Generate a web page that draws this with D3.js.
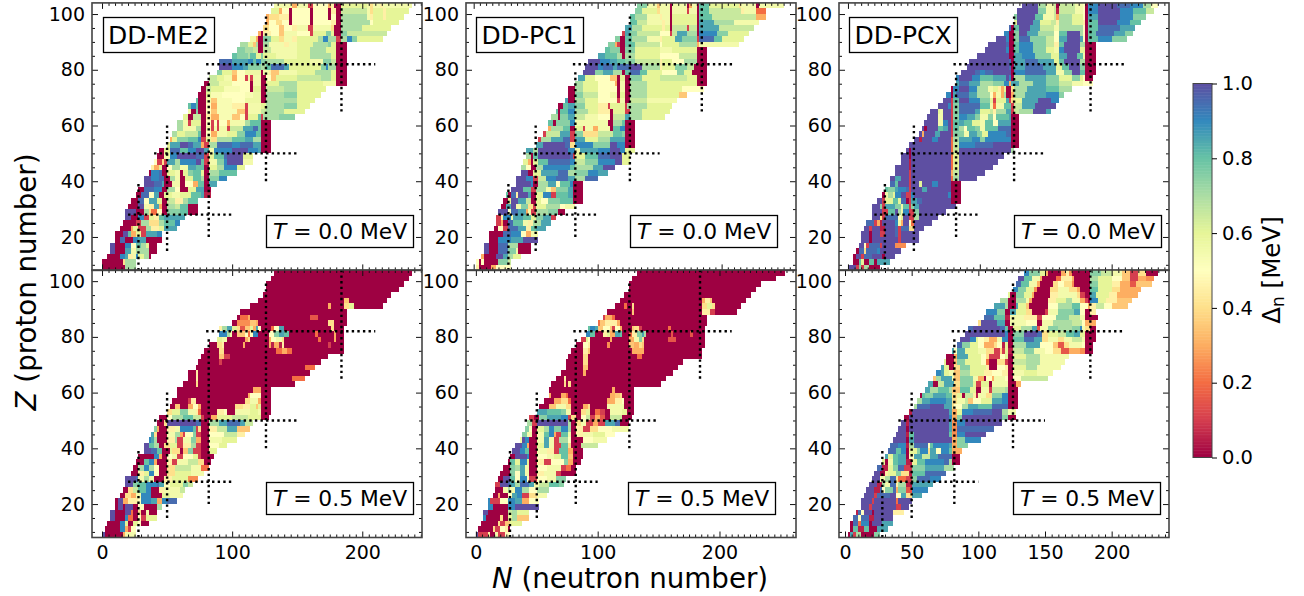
<!DOCTYPE html>
<html>
<head>
<meta charset="utf-8">
<script src="https://d3js.org/d3.v7.min.js"></script>
<style>
body { margin: 0; background: #fff; }
text { font-family: "DejaVu Sans", sans-serif; fill: #000; }
</style>
</head>
<body>
<div id="wrapper"></div>
<script>
// proton number of each row, top to bottom. a row covers Z..Z+2
const zRows = [102,100,98,96,94,92,90,88,86,84,82,80,78,76,74,72,70,68,66,64,62,60,58,56,54,52,50,48,46,44,42,40,38,36,34,32,30,28,26,24,22,20,18,16,14,12,10,8];

// every row is N0, gap, N1, gap, N2 ... Nend (gap in MeV)
const me2T0 = [
[132,.55,146,.3,150,.55,158,.1,162,.5,174,.3,176,.45,178,0,184,.6,204,.55,206,.4,208,.55,214,.45,216,.55,238],
[130,.6,136,.3,138,.5,144,0,146,.5,160,0,162,.5,174,0,176,.45,180,0,184,.65,204,.55,206,.4,208,.6,216,.45,218,.6,236],
[126,.3,128,.4,136,.45,144,0,146,.5,160,0,162,.5,174,0,176,.5,180,0,184,.7,204,.55,206,.45,208,.6,216,.45,218,.6,232],
[126,.3,128,.5,134,.4,138,.5,144,0,146,.5,160,0,162,.5,176,.45,180,0,184,.7,206,.5,208,.6,228],
[124,.4,128,.5,136,.35,140,.5,146,.45,150,.55,158,.1,162,.55,176,.4,178,0,184,.7,200,.6,222],
[120,.3,122,0,124,.45,130,.5,136,.35,140,.55,150,.5,160,.1,162,.6,172,.75,176,.6,178,0,184,.75,188,.65,219],
[114,.55,118,.3,120,0,124,.75,130,.6,136,.4,140,.55,146,.45,150,.6,166,.7,170,.9,174,.7,180,.1,184,.7,188,.9,192,.75,196,.6,216],
[106,.7,112,.6,116,.35,118,.7,120,0,124,.7,128,.55,140,.45,144,.55,150,.6,162,.7,174,.75,176,.6,180,0,188],
[104,.75,110,.7,116,.65,120,0,124,.65,130,.55,150,.6,160,.7,172,.6,180,0,188],
[100,.8,104,.75,112,.7,114,.8,118,.6,122,.75,124,.6,134,.55,150,.6,160,.7,176,.6,180,0,188],
[90,.95,100,.85,112,.9,116,.8,118,.9,122,.75,126,.7,140,.6,160,.55,170,.75,176,.65,180,0,188],
[90,1,100,.9,108,.85,112,.75,122,.7,126,.8,130,.95,140,.85,144,.6,160,.6,168,.75,172,.9,174,.7,180,0,188],
[88,.75,92,.6,100,.35,104,.5,110,.57,122,0,124,.55,128,.45,130,.35,136,.55,150,.6,164,.7,176,.6,180,0,188],
[82,.65,88,.6,94,.55,100,.3,104,.5,110,.1,112,.55,114,.1,116,.55,122,0,126,.5,130,.35,134,.6,150,.65,168,.7,176,.6,180,0,188],
[78,0,82,.65,90,.57,100,.5,114,0,116,.55,122,0,126,.6,136,.7,150,.6,170,.55,180,0,188],
[76,0,80,.65,84,.6,94,.53,106,.5,114,0,116,.6,122,0,126,.65,140,.7,150,.6,172],
[74,0,80,.6,84,.53,92,.5,110,.53,116,.57,122,0,126,.7,140,.75,150,.6,168],
[72,.8,74,0,80,.55,84,.35,88,.53,100,.5,110,.57,122,0,126,.7,140,.7,150,.6,164],
[66,.8,68,.9,72,.8,74,0,80,.5,84,.3,88,.53,100,.45,110,.1,112,.55,122,.6,126,.7,140,.75,150,.6,160],
[66,.55,68,0,72,.75,74,0,80,.5,84,.35,88,.53,104,.35,110,.1,112,.55,122,.65,126,.7,140,.6,156],
[62,.6,66,0,70,.65,76,0,80,.45,84,.3,90,.53,100,.35,106,.5,110,.1,112,.6,120,.8,122,.1,124,.7,136,.75,148],
[58,.7,62,.55,66,.1,68,.6,76,0,80,.5,84,.1,86,.5,88,.1,90,.5,96,.3,98,.55,110,.7,114,.8,122,0,130],
[58,.7,62,.55,72,.7,76,0,80,.55,84,.1,86,.55,88,.1,90,.55,96,.1,98,.65,108,.85,116,.95,120,.8,122,0,130],
[54,.7,58,.6,64,.65,74,.8,76,0,80,.5,84,.3,88,.55,96,.6,104,.75,110,.9,118,.8,122,0,130],
[52,.3,54,.6,58,.75,66,.8,74,.9,76,.1,80,.6,84,.4,88,.7,100,.8,110,.85,116,.7,122,0,130],
[50,.6,52,.85,60,1,66,.95,70,.85,76,.3,78,.1,82,.7,88,.95,100,.9,106,.95,116,.85,122,0,130],
[44,0,48,.6,52,.95,60,.8,66,.9,72,1,78,.85,82,.55,86,.9,100,1,112,.9,120,.85,122,0,130],
[42,0,48,.55,52,.9,58,1,72,.95,78,.1,82,.6,86,.8,94,.95,96,1,108,.6,116],
[40,.5,42,.1,46,.4,48,.1,50,.85,56,.7,60,.9,72,1,76,.8,78,.1,82,.55,88,.75,94,.9,96,1,108,.55,116],
[38,.45,40,.3,44,.6,46,0,50,.5,54,.7,60,.55,66,.85,72,.8,78,0,82,.6,88,.7,94,.9,104,.6,110],
[36,0,38,.9,44,.95,46,0,50,.6,56,.55,60,0,62,.6,66,.75,70,.8,76,.6,78,0,82,.7,90,.8,104],
[32,1,38,.9,44,.95,48,0,52,.7,56,.55,60,0,64,.6,70,.8,76,.7,78,0,82,.75,90,.9,96],
[32,1,40,.95,46,.85,48,0,54,.55,60,0,64,.5,70,.3,74,.8,78,0,82,.85,88],
[28,0,32,.95,40,.9,46,0,50,.7,56,.5,60,0,66,.6,72,.85,78,0,84],
[26,0,30,.95,36,.5,40,.85,44,0,48,.6,54,.55,60,.6,68,.8,76,.85,78,.05,84],
[22,0,28,.95,32,.5,36,.85,42,.6,46,0,50,.65,56,.45,62,.7,66,.8,74],
[20,0,28,1,32,.55,36,.45,40,.85,44,.3,46,0,50,.7,56,.65,60,.8,66,0,74],
[18,1,26,0,32,.7,36,.4,38,.2,42,.5,46,0,50,.75,60,.8,66,0,74],
[18,1,22,0,28,.9,32,.1,36,.6,40,.45,44,.8,48,.85,64],
[16,0,26,.1,30,.7,36,.4,44,.7,48,.8,56,.9,60],
[14,0,22,.3,24,.6,28,.1,34,.7,38,.45,44,.6,48,.85,58],
[10,0,16,1,20,.8,22,.3,26,.6,30,.1,34,.85,42,.9,46],
[10,0,14,.95,18,0,24,.9,28,.85,34,0,46],
[6,1,10,0,18,.9,22,.5,26,.8,30,.7,34,.6,36,0,42],
[6,1,10,0,18,.85,22,.55,26,.7,36,0,42],
[4,0,14,.9,18,.85,20,.45,24,.55,26,.9,28,.6,32,.7,36,0,38],
[0,0,16,.4,18,.7,26],
[0,0,18,.7,26]
];

const pc1T0 = [
[132,.75,140,.55,148,.35,150,.55,158,0,160,.55,172,0,174,.3,176,.55,180,0,182,.8,190,.6,214,.4,216,.55,228,0,230,.55,250],
[130,.75,136,.6,148,.4,150,.55,158,0,160,.55,172,.1,174,.55,180,0,182,.8,190,.65,216,.45,218,.55,228,.2,236],
[126,.8,130,.7,140,.55,150,.45,152,.55,158,0,160,.6,180,0,182,.8,192,.65,228,.3,236],
[126,.8,132,.65,140,.55,152,.45,154,.55,158,0,160,.6,180,0,182,.85,194,.7,210,.55,230],
[122,.85,128,.7,136,.6,152,.45,154,.6,158,0,160,.65,172,.1,174,.65,180,0,182,.85,198,.65,226],
[120,.1,122,.85,126,.75,132,.65,150,.5,158,.1,160,.65,164,.85,172,.7,180,0,182,.9,196,.75,205,.6,222],
[114,.75,118,0,122,.8,128,.7,140,.55,150,.45,152,.6,162,.85,168,.75,180,.1,182,.95,194,.8,200,.6,218],
[108,.75,114,.3,116,.1,118,0,122,.8,130,.65,150,.5,152,.6,166,.7,180,.3,182,.55,214],
[106,.8,110,.75,118,0,122,.75,130,.6,150,.55,160,.6,180,0,188],
[100,.85,106,.8,116,.7,120,0,122,.7,130,.6,150,.5,166,.65,180,0,188],
[92,1,102,.9,110,.85,116,.8,122,.75,130,.65,150,.45,152,.6,160,.5,170,.7,180,0,188],
[90,1,100,.9,104,.95,112,.85,116,.95,126,1,136,.7,150,.45,152,.6,162,.75,172,.65,178,0,188],
[88,1,98,.75,104,.85,112,.7,120,0,122,.8,126,.95,134,.8,140,.6,152,.5,164,.75,170,.6,176,0,188],
[84,.85,90,.6,98,.5,110,.35,116,0,118,.6,122,0,126,.75,136,.6,150,.65,172,.6,180,0,188],
[82,.7,88,.6,100,.5,114,.3,116,0,118,.55,122,0,126,.7,140,.6,180,0,188],
[76,0,82,.7,88,.6,100,.5,116,0,118,.55,122,0,126,.7,140,.6,168,.5,186],
[76,0,82,.75,88,.65,100,.5,110,.55,116,0,118,.6,122,0,126,.7,140,.6,166,.35,172],
[74,.85,76,0,82,.7,90,.6,100,.5,116,.1,118,.55,122,0,126,.65,140,.55,164],
[68,0,72,.8,76,.85,82,.75,90,.6,100,.45,108,.1,110,.6,122,.1,124,.7,140,.6,160],
[66,.8,68,0,70,.8,76,.9,82,.7,92,.6,100,.45,110,0,112,.6,122,.1,126,.7,136,.6,158],
[62,.7,68,0,70,.75,76,.85,82,.65,90,.55,100,.5,110,0,112,.65,122,.85,126,.7,136,.6,154],
[60,.8,64,0,66,.75,78,.9,82,.55,108,0,112,.7,120,.8,122,0,130],
[60,.3,62,.7,72,.8,78,0,82,.6,88,.1,90,.55,96,.3,100,.55,110,0,112,.8,118,.9,122,0,130],
[56,.1,58,.65,70,.85,78,.1,82,.75,88,.4,100,.65,112,.8,120,.75,122,0,130],
[52,.1,54,.7,62,.85,72,.95,78,.1,82,.85,90,.6,100,.7,110,.85,122,0,130],
[50,.85,56,1,74,.95,78,.4,82,.9,96,.75,110,1,116,.9,122,0,130],
[42,.85,48,.7,52,1,76,.9,82,.55,86,.85,100,.9,110,1,118,.9,122,.6,130],
[42,.7,46,0,48,.8,52,1,78,.95,80,.1,82,.6,90,.8,100,.95,110,1,120,.6,126],
[40,.6,44,.3,46,0,48,.6,52,.8,60,.95,78,.9,82,.65,90,.75,100,.9,114,1,120,.6,126],
[38,.7,42,.5,46,0,50,.7,56,.9,78,.8,82,.7,96,.85,104,1,114],
[38,1,44,0,48,.6,54,.85,68,.95,76,.7,82,.75,92,.9,100,.85,108],
[34,1,42,.9,48,.1,52,.65,58,.9,66,.95,76,.85,82,.7,90,.95,100],
[34,1,46,.9,48,0,52,.7,60,.85,66,.5,70,.8,78,.9,80,0,88],
[30,1,40,.8,46,.1,50,.7,58,.55,62,.35,66,.75,76,.85,80,0,88],
[26,.8,28,0,30,.95,34,.45,36,1,44,.85,46,0,50,.6,56,.9,62,.1,66,.8,76,.85,80,0,88],
[24,0,28,.6,30,1,36,.85,42,.65,46,0,50,.6,54,.5,60,.75,70,.8,80,0,88],
[22,0,26,.85,30,1,34,.55,38,.75,44,.4,48,.1,50,.6,58,.7,70,.5,74,.55,82],
[20,1,28,.5,30,.95,36,.85,42,.3,44,.55,46,.1,50,.7,60,.75,68,0,74],
[18,.1,22,.45,24,.9,30,.55,32,.85,40,.8,46,.6,50,.75,56,.85,62,.1,66],
[18,.1,22,.3,24,0,28,.95,32,.8,40,.55,44,.45,48,.7,54,.85,62],
[16,0,20,.5,24,.1,28,.95,36,.85,42,.45,46,.8,50,.85,58],
[12,0,24,.95,30,.9,38,.5,42,.3,46,.55,52],
[12,0,20,.9,30,.85,40,1,52],
[8,1,12,0,20,.95,28,.7,36,0,46],
[8,1,12,0,20,.95,28,.75,34,.55,36,0,46],
[6,.3,8,0,18,1,24,.85,28,.7,32,.6,38],
[2,.5,4,0,6,.5,8,0,20,.75,28,.65,30],
[2,.45,4,0,14,.3,18,.5,30]
];

const pcxT0 = [
[132,1,144,.7,150,.55,156,.65,158,0,160,.65,172,.55,178,.5,180,0,182,.9,190,1,204,.95,214,.9,224,.7,230,.5,235],
[128,1,144,.75,150,.55,156,.65,158,.05,160,.65,172,.55,178,.5,180,0,182,.9,190,1,206,.9,216,.8,226,.65,232],
[126,.75,128,1,142,.8,148,.55,156,.65,158,.3,160,.7,170,.6,178,.5,180,0,182,.85,190,1,206,.9,216,.75,226],
[126,.6,128,1,140,.85,146,.6,154,.65,158,.45,160,.7,170,.6,178,.45,180,0,182,.8,190,1,204,.9,214,.8,222],
[122,.95,124,0,126,.8,130,1,138,.85,146,.65,156,.55,160,.7,178,.5,180,0,182,.8,190,.95,206,.85,218],
[118,.9,122,0,126,.75,130,1,136,.85,144,.7,156,.5,160,.8,166,1,176,.7,178,.5,180,0,182,.8,188,.95,202,.85,210,.75,216],
[112,1,120,.9,122,0,126,.75,130,.95,138,.75,150,.65,156,.5,160,.85,166,1,176,.85,178,.5,180,0,182,.8,190,.9,200,.75,212],
[106,1,120,.95,122,0,126,.8,130,.9,140,.75,150,.65,156,.45,160,.8,164,1,176,.7,180,0,188],
[104,1,120,.9,122,0,126,.8,130,.9,140,.75,150,.6,156,.55,160,.9,164,1,176,.6,180,0,188],
[98,1,122,0,126,.85,132,.9,142,.75,154,.6,160,.85,166,1,174,.8,178,.55,180,0,188],
[92,1,122,.95,124,0,126,.85,134,.95,144,.85,156,.6,160,.8,164,1,176,.7,180,0,188],
[90,1,122,.95,124,0,126,.85,134,.95,148,.85,158,.6,162,.8,168,1,176,.75,180,0,188],
[86,1,96,.95,100,.9,104,.95,110,1,124,0,126,.9,134,.95,150,.85,158,.55,164,.75,170,1,176,.8,180,0,188],
[82,.9,84,1,94,.9,100,.8,110,.85,120,1,122,.9,124,0,126,.7,134,.85,150,.75,160,.6,170,.75,176,.6,178,.5,180,0,186],
[82,.85,84,.95,92,.85,100,.7,110,.75,118,.9,122,.3,124,.85,130,.7,140,.85,150,.75,160,.65,170,.55,178,.5,186],
[78,0,80,.9,84,1,92,.9,98,.7,106,.55,110,.6,114,.45,116,.3,118,.6,120,0,124,.4,126,.7,136,.85,150,.8,160,.7,170],
[74,.9,78,0,80,.85,82,.95,92,.85,98,.7,108,.5,110,.3,112,.55,116,.3,118,.7,120,0,124,.3,126,.7,134,.85,150,.9,160,.75,164],
[72,1,78,.1,80,.8,84,1,92,.9,100,.75,108,.6,110,.1,112,.6,120,.85,122,.1,124,.4,126,.6,132,.85,144,1,154,.9,160],
[68,1,76,.9,78,.1,80,.75,84,.95,100,.8,108,.55,110,.2,112,.55,118,.8,124,.1,126,.65,132,.85,142,1,158],
[62,1,68,.6,70,.55,72,1,78,.1,80,.75,84,.95,96,.85,100,.6,108,.65,110,.45,112,.7,120,.85,124,.1,126,.65,130,.7,140,1,150,.85,154],
[60,1,68,.55,72,1,78,.1,80,.75,84,.9,90,.85,96,.75,100,.55,106,.75,110,.5,112,.8,122,.85,124,0,130],
[58,1,68,.55,72,.9,76,1,78,.1,80,.8,84,.85,88,.8,94,.6,100,.55,104,.8,110,.5,114,.85,124,0,130],
[56,1,58,0,60,1,68,.8,72,.85,76,1,78,.1,80,.8,84,.7,88,.5,90,.8,96,.75,100,.55,104,.8,114,.95,124,0,130],
[54,1,56,.3,58,1,66,.85,70,1,78,.1,80,.75,84,.75,88,.55,92,.85,98,.75,102,.6,106,.9,120,.95,124,0,130],
[50,1,54,.05,56,1,64,.9,68,1,78,.2,80,.7,84,.85,94,.9,100,.75,104,.9,124,0,130],
[46,1,78,.2,80,.65,84,.9,96,.95,110,1,124,0,130],
[44,1,46,0,48,1,78,.2,80,.65,84,1,124,.7,126],
[40,1,46,0,48,1,78,.2,80,.6,84,1,118],
[40,1,46,.05,48,1,78,.2,80,.6,84,1,114],
[36,1,46,.05,48,1,78,.2,80,.6,84,1,110],
[36,1,46,.1,48,1,78,.3,80,.65,84,1,104],
[32,1,36,.85,40,1,46,.1,48,1,78,.2,80,.7,84,1,98],
[32,.95,36,.8,38,1,46,.1,48,1,54,.6,56,1,64,.9,68,1,78,0,86],
[28,.8,30,.75,36,.85,38,.9,44,.95,46,.1,48,1,56,.85,60,1,78,0,86],
[26,0,28,.55,30,.7,34,.6,36,.9,40,1,44,.1,48,.9,50,1,76,.9,78,0,86],
[22,1,26,.1,28,.6,34,.8,38,.6,40,.95,44,0,46,.1,48,.85,52,.95,56,1,78,0,86],
[18,1,24,.75,26,.1,28,.85,36,.75,40,.55,42,.8,46,.1,48,.75,50,.85,54,1,82],
[18,1,26,.1,30,.8,36,1,38,.7,40,.55,42,.9,46,.1,50,.75,54,1,74],
[18,1,24,.4,26,.1,28,.95,38,.5,40,.6,42,1,46,.1,50,.7,54,1,68],
[14,.95,20,.1,22,.3,24,.05,26,1,36,.9,38,.55,40,.3,42,1,46,.5,48,.2,50,1,64],
[12,1,16,.1,18,1,24,.05,28,1,36,.95,38,.1,40,.95,46,.4,50,1,58],
[10,1,16,0,18,1,24,.1,28,1,36,.95,38,.1,40,1,54],
[10,1,16,0,18,1,38,.1,40,1,54],
[8,1,12,.5,14,.1,16,.95,24,.1,26,1,36,.25,44],
[6,0,8,.95,12,.4,14,.95,22,.9,24,1,40],
[4,0,6,1,10,.1,12,.95,18,1,26,0,28,1,36],
[4,0,8,.8,10,.6,12,0,16,.8,20,0,22,.85,32],
[0,1,6,.1,8,.75,10,.1,12,.7,16,0,24]
];

const me2T05 = [
[132,0,238],[130,0,236],[126,0,232],[126,0,228],[124,0,222],
[120,0,186,.35,190,0,219],
[114,0,174,.3,176,0,186,.4,190,.6,194,0,216],
[106,0,188],
[104,0,106,.2,112,.3,114,0,160,.15,166,0,188],
[100,0,104,.25,114,.35,118,.3,120,0,174,.4,178,0,188],
[90,.45,92,.7,96,.85,100,.6,104,.4,106,.15,110,.35,114,.6,116,.3,118,.85,120,.5,122,0,130,.2,132,.5,136,.85,140,0,176,.4,178,0,186],
[90,.9,96,.7,98,.55,100,0,104,.35,110,.5,112,.2,114,.5,116,.9,120,0,128,.5,132,.75,136,.85,140,.8,144,0,164,.2,166,0,178,.3,180,0,186],
[88,.6,92,.55,96,0,110,.3,112,.4,114,0,128,.3,130,.5,134,.55,138,.4,140,0,166,.2,168,0,178,.3,180,0,186],
[82,0,88,.4,92,.45,94,0,108,.3,110,0,128,.3,130,.05,132,.3,136,.05,138,.45,140,0,174,.1,176,0,186],
[78,0,90,.4,94,0,134,.2,138,.3,142,.2,146,0,186],
[76,0,90,.35,94,.1,98,0,174],
[74,0,90,.1,92,0,168],
[72,0,156,.2,164],
[66,0,72,.45,74,0,160],
[66,0,72,.45,74,0,146,.2,156],
[62,0,72,.4,74,0,148],
[58,0,116,.3,122,0,130],
[58,0,112,.3,114,.5,120,.5,122,0,130],
[54,0,66,.1,68,.45,72,0,110,.4,114,.55,120,.3,122,0,130],
[52,0,56,.35,60,0,66,.3,70,.5,74,.3,76,0,102,.4,108,.45,114,.6,118,.35,120,.6,122,0,130],
[50,.4,54,.6,60,.75,66,.55,72,.45,74,.2,76,0,88,.45,94,.5,96,0,102,.55,114,.6,120,.55,122,0,130],
[44,0,50,.5,54,.7,62,.8,70,.65,76,.1,78,0,84,.3,88,.6,100,.65,112,.6,122,0,128],
[42,0,48,.4,50,1,66,1,72,.95,76,0,82,.7,90,.85,96,.95,106,.85,110,.65,116],
[40,.75,42,.3,44,0,50,.45,56,.55,60,.9,70,.8,72,.1,74,.4,76,0,82,.45,88,.65,96,.85,104,.35,114],
[38,.85,40,.4,42,0,50,.55,56,.7,60,.3,62,.1,64,.5,70,.75,72,.1,76,0,82,.5,94,.65,104,.45,110],
[36,.9,38,.85,40,.7,42,0,50,.45,56,.7,58,.1,62,.55,68,.75,72,.3,76,0,82,.55,92,.6,104],
[32,1,36,.8,40,.7,44,0,48,.4,52,.6,58,.1,62,.45,68,.7,72,.1,76,0,82,.5,90,.6,96],
[32,1,38,.95,42,.8,46,0,52,.6,54,.4,60,0,62,.35,66,.75,70,.1,76,0,82,.6,88],
[28,0,40,.9,44,.3,46,0,50,.5,54,.55,58,.1,62,.5,70,.6,74,.1,76,0,86],
[26,0,32,.8,36,.9,40,.3,42,0,50,.45,54,.1,58,.55,66,.65,74,.4,78,0,84],
[24,0,28,.7,32,.9,36,.7,40,.5,44,0,50,.4,56,.65,68,.55,76,.2,82],
[22,0,28,.45,32,.6,36,.9,40,.5,44,0,50,.4,56,.6,68,.55,78],
[18,1,26,.95,28,.55,32,.7,36,.55,40,0,48,.45,54,.6,66,.25,74],
[18,1,24,.75,28,.8,34,.9,42,.95,44,.85,48,.5,52,.6,62,.75,66,.65,70],
[16,0,20,.4,24,.65,28,.8,34,.9,38,0,44,.45,48,.55,60,.65,64],
[14,0,18,.4,22,.3,26,.55,30,.9,38,0,46,.6,52,.55,62],
[10,0,12,1,16,.3,20,.45,28,.5,30,.9,38,.85,42,.3,46,.9,50,.95,58],
[10,0,12,1,16,0,18,1,24,0,28,.5,32,0,42,.7,46],
[6,1,10,0,18,1,22,.2,24,0,28,.4,30,0,34,.55,36,0,42],
[6,1,10,0,18,.9,20,.2,24,0,28,.5,30,.1,34,.6,42],
[4,0,14,.9,18,.6,20,0,24,.6,28,.5,30,0,36],
[2,0,14,.9,18,.3,20,.1,22,.5,26],
[0,1,2,0,16,.3,18,.55,26]
];

const pc1T05 = [
[132,0,254],[128,0,246],[126,0,234],[126,0,230],[122,0,226],
[118,0,186,.3,188,.45,192,.35,194,0,222],
[114,0,122,.2,124,0,128,.4,130,0,186,.4,190,.6,194,.4,196,0,218],
[108,0,128,.35,130,0,186,.45,192,.1,196,0,214],
[104,.1,106,.3,112,.2,114,0,190],
[100,.2,102,.35,106,.45,116,.3,118,0,190],
[92,.8,94,.9,98,.85,100,.35,104,.5,110,.35,112,.1,114,.5,118,.3,120,0,128,.35,130,.4,134,.1,136,0,158,.2,160,0,188],
[90,.9,94,.8,98,0,104,.45,108,.6,110,.3,114,.85,118,.8,120,0,126,.2,128,.45,132,.75,136,.85,138,.7,140,0,160,.15,162,0,176,.15,178,0,188],
[86,.1,90,.6,92,.5,94,0,110,.3,112,0,126,.3,130,.55,134,.75,136,.4,138,0,158,.15,164,0,188],
[82,0,88,.5,92,.45,94,0,108,.25,110,0,126,.35,130,.3,134,.4,136,.35,138,0,188],
[78,0,88,.45,92,.35,94,0,128,.3,138,0,186],
[76,0,88,.4,92,0,132,.2,136,0,186],
[74,0,88,.4,92,0,170],
[74,0,88,.35,92,0,166],
[70,0,88,.3,90,0,162],
[66,0,72,.45,74,0,156],
[62,0,72,.4,74,0,76,.4,78,0,152],
[60,0,112,.3,114,0,130],
[60,.3,62,0,70,.3,74,.2,76,0,110,.3,114,.35,118,.4,120,0,130],
[56,0,64,.3,70,.4,76,.2,78,0,108,.3,114,.45,120,.5,122,0,130],
[52,0,60,.35,66,.55,74,.4,78,0,88,.3,92,.4,94,0,108,.55,122,0,130],
[50,.85,58,.8,70,.75,74,.55,78,0,86,.4,90,.6,94,0,98,.2,102,.1,106,0,110,.55,120,.6,124,0,130],
[44,.1,48,0,52,.75,58,.85,70,.9,76,.1,78,.4,82,0,86,.5,90,.65,94,.1,98,.3,102,.15,106,0,110,.65,120,0,128],
[42,.7,46,.1,50,1,70,1,76,.7,78,0,82,.4,86,.55,90,.1,96,.3,100,.1,106,.85,114,.95,118,0,126],
[40,.75,44,.5,46,0,50,.6,56,.7,60,.9,64,.75,70,.9,76,.7,78,0,82,.45,88,.1,94,.4,100,.5,112,.55,126],
[38,.75,42,.55,46,0,50,.55,56,.8,60,.9,64,.3,66,.1,70,.8,76,.55,78,0,82,.45,88,.55,96,.6,106,.5,114],
[36,.55,38,1,40,.9,44,0,50,.55,56,.85,60,.55,64,.1,68,.7,76,.5,78,0,88,.5,96,.55,108],
[32,1,38,.9,42,.3,44,0,50,.6,56,.85,60,.55,64,.1,70,.8,76,.4,78,0,86,.65,100],
[30,1,36,.9,40,.8,44,0,50,.55,58,.45,64,.1,68,.8,76,.3,80,0,88],
[28,0,32,1,42,.9,44,0,50,.5,58,.55,64,.6,70,.8,76,.35,80,0,88],
[26,0,28,.8,32,.6,36,.9,42,.6,44,0,50,.45,56,.1,62,.5,72,.75,76,.3,80,0,86],
[22,0,28,.75,32,.7,36,.85,40,.55,44,0,50,.5,58,.55,70,.1,74,.2,78,0,82],
[20,0,28,.75,32,.5,36,.85,40,.55,44,0,50,.45,56,.55,66,.1,70,0,82],
[18,0,22,1,28,.8,32,.5,36,.9,42,.5,44,.1,50,.5,58,.55,66,.75,74],
[16,.1,20,1,26,.95,28,.85,32,.7,36,.95,44,.85,48,.55,52,.65,60,.8,68,.75,72],
[16,0,22,.55,26,.7,28,.55,32,.9,38,.7,44,.5,50,.7,60],
[14,0,18,.3,20,0,26,.5,30,.85,34,.9,38,.1,44,.4,50,.55,58],
[10,.9,12,.1,20,.5,26,.9,32,.85,38,.3,44,.5,52],
[10,.9,14,0,26,.9,32,1,52],
[6,1,10,0,26,.65,30,.7,34,.6,44],
[6,.9,8,0,20,.4,22,0,26,.6,30,.7,34,.35,44],
[4,0,18,.4,20,.1,24,.35,28,.6,38],
[2,0,14,.4,16,.1,20,.5,24,.45,26,0,28],
[0,1,2,.1,10,.45,12,0,16,.55,18,.1,24,.5,28]
];

const pcxT05 = [
[134,.9,138,.75,146,.6,150,.3,152,0,162,.3,166,.45,168,.25,170,0,184,.75,192,.65,200,.55,208,.35,214,.1,220,.4,226,0,235],
[130,1,134,.8,140,.55,146,.3,148,0,158,.2,162,.45,170,.3,172,0,184,.7,190,.6,200,.5,208,.35,214,.1,220,.3,226,.25,232],
[128,.95,132,.8,138,.55,144,.3,146,0,156,.4,160,.5,164,.4,170,.25,172,0,184,.75,190,.6,200,.45,206,.3,214,.15,218,.35,230],
[126,.9,130,.75,136,.6,142,.25,144,0,154,.4,160,.55,168,.4,174,.3,176,0,184,.8,190,.6,200,.4,206,.3,222],
[122,.6,124,0,128,.75,134,.6,140,.3,142,0,154,.45,160,.55,168,.55,174,.4,176,.1,180,0,184,.85,188,.6,198,.45,204,.3,220],
[116,.7,122,0,128,.7,136,.55,138,.3,140,0,152,.45,158,.6,166,.7,170,.55,176,.3,180,.1,182,0,184,.9,190,.6,196,.45,204,.35,215],
[112,.85,120,.7,122,0,128,.85,130,.6,136,.35,138,0,152,.5,160,.7,170,.8,176,.5,182,.3,184,.45,188,.65,194,.5,200,.35,212],
[106,.9,114,.75,120,0,124,.85,128,.6,136,.4,140,0,150,.1,152,.55,160,.75,172,.85,176,.5,180,0,184,.45,188],
[104,.95,112,.8,120,.05,124,.55,134,.45,144,.1,148,.5,158,.75,168,.65,176,.55,180,0,190],
[100,.4,102,1,114,.85,120,0,124,.55,136,.5,144,0,148,.55,156,.7,170,.65,178,.5,180,.3,188],
[92,.95,96,1,116,.95,120,.8,122,0,126,.6,132,.7,140,.85,144,.15,146,.55,152,.75,160,.7,170,.75,176,.9,178,.55,180,.4,184,0,188],
[90,1,120,.9,122,0,126,.75,134,1,144,.95,148,.4,152,.6,160,.65,166,.8,172,.85,176,.6,180,0,188],
[86,1,94,.9,98,.6,100,.5,104,.45,108,.3,114,.55,118,.9,122,0,126,.8,134,.95,142,.85,148,.4,152,.55,160,.4,164,.55,170,.65,178,.55,180,0,188],
[84,.95,88,.75,94,.6,100,.5,104,.3,112,.4,114,.5,118,.05,120,.6,122,0,126,.7,136,.85,146,.5,156,.35,160,.15,164,.4,168,.55,178,.5,180,0,186],
[80,.85,82,.5,84,.85,90,.6,100,.55,106,.4,112,.1,116,.4,118,.1,120,.6,122,.05,126,.65,134,.75,142,.55,150,.5,156,.4,162,.15,168,.3,176,.25,180,0,186],
[76,0,82,.3,84,.85,92,.6,102,.5,106,.4,108,.1,116,.5,120,.6,122,0,126,.6,136,.7,146,.55,168],
[74,.6,76,0,82,.35,84,.75,90,.6,102,.5,106,.2,108,0,114,.4,120,.1,122,0,126,.65,136,.7,146,.55,165],
[72,.85,74,.6,78,0,82,.4,86,.75,94,.6,106,.45,108,0,114,.5,120,.45,122,0,126,.6,136,.7,144,.55,162],
[68,.9,72,.85,74,.6,78,.55,82,.35,86,.7,94,.6,104,.45,110,.5,118,.45,122,0,126,.55,134,.6,144,.55,156],
[66,.35,68,.7,72,.85,80,.55,82,.35,86,.75,96,.55,100,.3,104,0,106,.5,110,.3,112,.55,120,.5,122,0,126,.5,132,.65,152],
[62,.85,66,0,70,.65,74,.85,82,.4,86,.75,96,.6,98,.1,102,.6,108,0,110,.55,122,0,128,.3,132],
[60,.85,64,.7,70,.8,78,.7,80,.35,86,.8,94,.6,98,0,102,.55,108,.1,110,.65,120,.7,122,0,130],
[56,0,58,.8,60,.75,66,.85,76,.8,80,.4,84,.6,88,0,90,.65,96,.45,98,.05,100,.55,106,.4,110,.75,118,.9,122,0,130],
[54,.7,58,.85,64,.9,76,.85,80,.4,84,.55,90,.65,92,.35,96,.5,102,.6,110,.85,118,.9,122,0,130],
[52,.7,54,.95,64,1,74,.85,80,.4,82,.5,88,.7,92,.85,100,.8,110,.95,122,0,130],
[48,.05,50,1,78,.85,80,.3,84,.6,88,.9,96,.95,110,1,118,.7,122,.55,128],
[44,0,48,1,78,.9,80,.3,84,.75,88,1,118,.75,122,0,128],
[42,1,46,.05,48,1,78,.85,80,.25,84,.9,90,1,118],
[40,1,46,0,48,1,78,.85,80,.25,84,.95,112],
[38,1,46,.05,48,.8,52,1,78,.8,80,.25,84,.9,90,1,106],
[36,1,46,0,48,.85,52,1,80,.3,84,.75,90,.9,102],
[34,.95,40,.9,46,.05,48,.7,52,.95,62,.5,64,.8,66,.9,78,.85,80,.3,84,.75,92],
[32,.95,38,.8,42,.9,46,0,48,.6,54,.75,56,.9,62,.4,64,.85,68,.5,72,.9,78,.8,80,.3,88],
[30,.85,32,.6,36,.8,40,.85,46,0,48,.5,52,.85,58,.65,64,.85,70,.95,80,0,86],
[28,.6,30,0,32,.55,36,.8,40,.85,46,.05,50,.6,54,.8,60,.9,74,.95,78,.7,80,0,86],
[24,.95,28,.05,32,.6,36,.75,40,.95,44,.1,50,.75,60,.85,74,.7,82],
[22,1,26,0,30,.45,32,.6,38,.75,42,.4,48,.05,50,.8,60,.95,76],
[20,1,26,.55,30,.7,34,.95,38,.4,40,.2,46,.1,50,.75,54,.95,64,.9,72],
[18,1,24,.05,28,.7,30,.55,34,.95,38,.45,40,.7,46,.05,50,.85,66],
[16,1,22,.05,26,.95,28,.5,30,.75,36,.95,38,.3,40,.75,46,.15,50,.9,62],
[14,1,22,.1,24,.95,34,1,38,.5,42,.85,46,.4,50,.85,58],
[12,1,20,.1,22,1,38,.2,40,1,50],
[12,1,18,.1,20,1,38,.1,42,1,48],
[8,.05,10,.95,12,.5,14,1,20,0,22,1,36,.45,44],
[6,.95,10,.5,12,.95,18,.05,22,1,36],
[4,0,6,.95,10,.2,12,.9,18,0,20,1,28,.85,36],
[4,0,6,.8,10,.05,14,.8,18,0,24,.85,32],
[2,0,4,.85,6,.1,8,.7,12,0,22,.75,26]
];

// magic numbers: the dotted guides
const magicN = [28, 50, 82, 126, 184];
const magicNZ = [[8,40],[15,60],[20,80],[40,100],[65,104]];
const magicZ = [28, 50, 82];
const magicZN = [[20,100],[40,150],[80,210]];

const spectralStops = ["#9e0142","#d53e4f","#f46d43","#fdae61","#fee08b","#ffffbf","#e6f598","#abdda4","#66c2a5","#3288bd","#5e4fa2"];
const colorTicks = [0, 0.2, 0.4, 0.6, 0.8, 1];
const zTicks = [20, 40, 60, 80, 100];

const color = d3.scaleLinear()
    .domain(spectralStops.map((d, i) => i / 10))
    .range(spectralStops);

const width = 1304, height = 596;
const svg = d3.select("#wrapper").append("svg")
    .attr("width", width)
    .attr("height", height)
    .style("display", "block");

const panels = [
    {name: "DD-ME2", temp: "0.0", rows: me2T0, left: 92, top: 2.9, xDomain: [-7.7, 245.9], nameBox: [103, 17, 111], tempBox: 266},
    {name: "DD-PC1", temp: "0.0", rows: pc1T0, left: 466, top: 2.9, xDomain: [-6.2, 260], nameBox: [476, 17, 107], tempBox: 630},
    {name: "DD-PCX", temp: "0.0", rows: pcxT0, left: 839, top: 2.9, xDomain: [-6.8, 243.5], nameBox: [849, 17, 108], tempBox: 1014},
    {temp: "0.5", rows: me2T05, left: 92, top: 270, xDomain: [-7.7, 245.9], tempBox: 266, labels: [0, 100, 200]},
    {temp: "0.5", rows: pc1T05, left: 466, top: 270, xDomain: [-8.1, 262.8], tempBox: 628, labels: [0, 100, 200]},
    {temp: "0.5", rows: pcxT05, left: 839, top: 270, xDomain: [-4.5, 243], tempBox: 1013, labels: [0, 50, 100, 150, 200]}
];

const panelW = 330, panelH = 267.5;

panels.forEach((p, idx) => {
    const g = svg.append("g").attr("transform", `translate(${p.left},${p.top})`);
    const x = d3.scaleLinear().domain(p.xDomain).range([0, panelW]);
    const y = d3.scaleLinear().domain([8, 104]).range([panelH, 0]);

    const clipId = "clip" + idx;
    g.append("clipPath").attr("id", clipId)
        .append("rect").attr("width", panelW).attr("height", panelH);
    const inner = g.append("g").attr("clip-path", `url(#${clipId})`);

    // flatten the rows to one cell per run
    const cells = p.rows.flatMap((row, i) => {
        const out = [];
        for (let j = 1; j < row.length; j += 2) {
            out.push({z: zRows[i], n0: row[j - 1], n1: row[j + 1], v: row[j]});
        }
        return out;
    });

    inner.append("g").selectAll("rect").data(cells).join("rect")
        .attr("x", d => x(d.n0))
        .attr("y", d => y(d.z + 2))
        .attr("width", d => x(d.n1) - x(d.n0))
        .attr("height", d => y(d.z) - y(d.z + 2))
        .attr("fill", d => color(d.v))
        .attr("shape-rendering", "crispEdges");

    const dots = inner.append("g")
        .attr("stroke", "#000")
        .attr("stroke-width", 2.4)
        .attr("stroke-dasharray", "2.4 3.2");
    magicN.forEach((n, i) => {
        dots.append("line")
            .attr("x1", x(n)).attr("x2", x(n))
            .attr("y1", y(magicNZ[i][0])).attr("y2", y(magicNZ[i][1]));
    });
    magicZ.forEach((z, i) => {
        dots.append("line")
            .attr("x1", x(magicZN[i][0])).attr("x2", x(magicZN[i][1]))
            .attr("y1", y(z)).attr("y2", y(z));
    });

    // x ticks, both sides, pointing in. minor every 5
    const xMajor = p.labels ? p.labels : [0, 100, 200];
    const xMinor = d3.range(0, p.xDomain[1], 5).filter(d => !xMajor.includes(d));
    const yMinor = d3.range(10, 104, 5).filter(d => !zTicks.includes(d));

    g.append("g").attr("transform", `translate(0,${panelH})`)
        .call(d3.axisBottom(x).tickValues(xMajor).tickSize(-6).tickPadding(8)
            .tickFormat(p.labels ? d3.format("d") : ""));
    g.append("g").call(d3.axisTop(x).tickValues(xMajor).tickSize(-6).tickFormat(""));
    g.append("g").attr("transform", `translate(0,${panelH})`)
        .call(d3.axisBottom(x).tickValues(xMinor).tickSize(-3).tickFormat(""));
    g.append("g").call(d3.axisTop(x).tickValues(xMinor).tickSize(-3).tickFormat(""));

    g.append("g")
        .call(d3.axisLeft(y).tickValues(zTicks).tickSize(-6).tickPadding(7));
    g.append("g").attr("transform", `translate(${panelW},0)`)
        .call(d3.axisRight(y).tickValues(zTicks).tickSize(-6).tickFormat(""));
    g.append("g").call(d3.axisLeft(y).tickValues(yMinor).tickSize(-3).tickFormat(""));
    g.append("g").attr("transform", `translate(${panelW},0)`)
        .call(d3.axisRight(y).tickValues(yMinor).tickSize(-3).tickFormat(""));

    g.selectAll(".domain").remove();
    g.selectAll(".tick line").attr("stroke", "#111").attr("stroke-width", 1);
    g.selectAll(".tick text").attr("font-size", 19)
        .style("font-family", '"DejaVu Sans", sans-serif').attr("fill", "#000");

    g.append("rect")
        .attr("width", panelW).attr("height", panelH)
        .attr("fill", "none").attr("stroke", "#444").attr("stroke-width", 1.6);

    // text boxes sit in page coords
    const page = svg.append("g");
    if (p.name) {
        page.append("rect")
            .attr("x", p.nameBox[0] + 0.5).attr("y", p.nameBox[1] + 0.5)
            .attr("width", p.nameBox[2]).attr("height", 35)
            .attr("fill", "#fff").attr("stroke", "#000").attr("stroke-width", 1.3);
        page.append("text")
            .attr("x", p.nameBox[0] + p.nameBox[2] / 2).attr("y", p.nameBox[1] + 26.5)
            .attr("text-anchor", "middle").attr("font-size", 25)
            .text(p.name);
    }
    const boxY = p.top === 2.9 ? 215 : 482;
    page.append("rect")
        .attr("x", p.tempBox + 0.5).attr("y", boxY + 0.5)
        .attr("width", 147).attr("height", 32)
        .attr("fill", "#fff").attr("stroke", "#000").attr("stroke-width", 1.3);
    const tempText = page.append("text")
        .attr("x", p.tempBox + 74).attr("y", boxY + 23.5)
        .attr("text-anchor", "middle").attr("font-size", 21.8);
    tempText.append("tspan").attr("font-style", "italic").text("T");
    tempText.append("tspan").text(` = ${p.temp} MeV`);
});

// colorbar
const cbarX = 1193, cbarW = 19, cbarTop = 83.5, cbarH = 374;
const cbarScale = d3.scaleLinear().domain([0, 1]).range([cbarTop + cbarH, cbarTop]);
svg.append("g").selectAll("rect").data(d3.range(0, 1, 1 / 256)).join("rect")
    .attr("x", cbarX)
    .attr("y", d => cbarScale(d + 1 / 256))
    .attr("width", cbarW)
    .attr("height", d => cbarScale(d) - cbarScale(d + 1 / 256) + 0.5)
    .attr("fill", d => color(d));
svg.append("rect")
    .attr("x", cbarX).attr("y", cbarTop).attr("width", cbarW).attr("height", cbarH)
    .attr("fill", "none").attr("stroke", "#444").attr("stroke-width", 1);
const cbarAxis = svg.append("g").attr("transform", `translate(${cbarX + cbarW},0)`)
    .call(d3.axisRight(cbarScale).tickValues(colorTicks).tickSize(5).tickPadding(5).tickFormat(d3.format(".1f")));
cbarAxis.select(".domain").remove();
cbarAxis.selectAll(".tick text").attr("font-size", 19.5)
    .style("font-family", '"DejaVu Sans", sans-serif').attr("fill", "#000");

const cbarLabel = svg.append("text")
    .attr("transform", "translate(1280,270) rotate(-90)")
    .attr("text-anchor", "middle")
    .attr("font-size", 24.5);
cbarLabel.append("tspan").text("Δ");
cbarLabel.append("tspan").attr("font-size", 17).attr("dy", 4).text("n");
cbarLabel.append("tspan").attr("dy", -4).text(" [MeV]");

// shared axis labels
const xLabel = svg.append("text")
    .attr("x", 630).attr("y", 588)
    .attr("text-anchor", "middle").attr("font-size", 27.7);
xLabel.append("tspan").attr("font-style", "italic").text("N");
xLabel.append("tspan").text(" (neutron number)");

const yLabel = svg.append("text")
    .attr("transform", "translate(36,282) rotate(-90)")
    .attr("text-anchor", "middle").attr("font-size", 27.7);
yLabel.append("tspan").attr("font-style", "italic").text("Z");
yLabel.append("tspan").text(" (proton number)");
</script>
</body>
</html>
